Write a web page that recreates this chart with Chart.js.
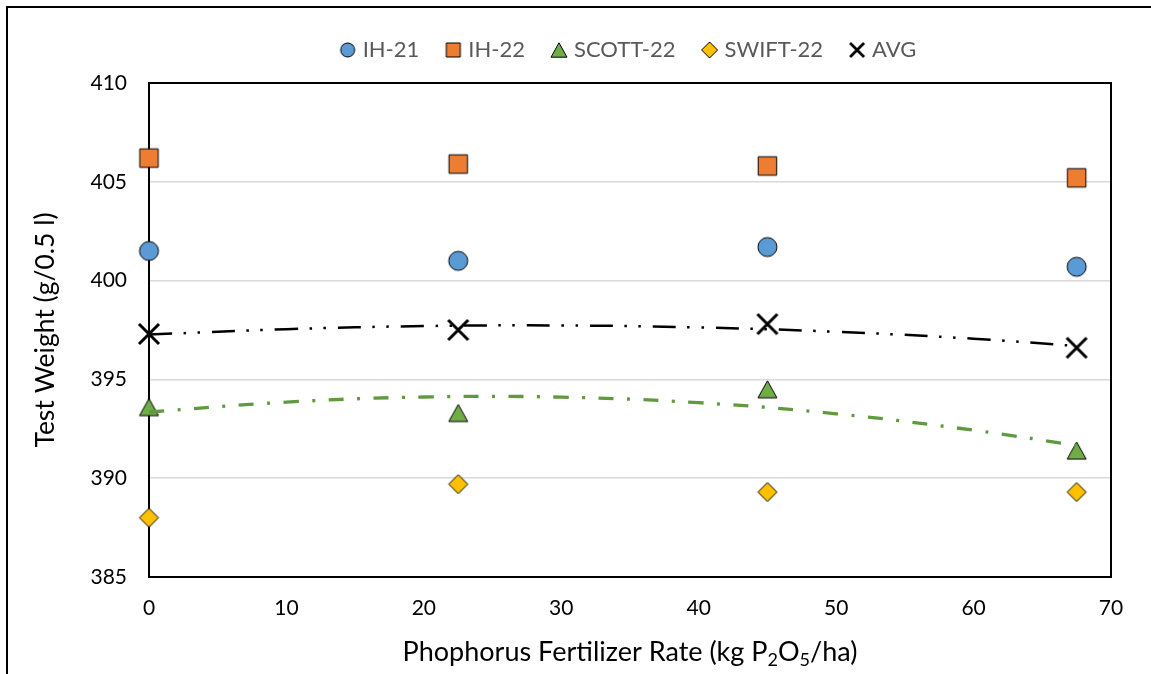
<!DOCTYPE html>
<html>
<head>
<meta charset="utf-8">
<script src="https://cdn.jsdelivr.net/npm/chart.js@4.4.1/dist/chart.umd.min.js"></script>
<style>
  html, body { margin: 0; padding: 0; background: #fff; }
  #wrap { width: 1151px; height: 674px; position: relative; }
</style>
</head>
<body>
<div id="wrap"><canvas id="c" width="1151" height="674"></canvas></div>
<script>
// ---- data ----
const rates = [0, 22.5, 45, 67.5];
const ih21 = [401.5, 401.0, 401.7, 400.7];
const ih22 = [406.2, 405.9, 405.8, 405.2];
const scott22 = [393.6, 393.3, 394.5, 391.4];
const swift22 = [388.0, 389.7, 389.3, 389.3];
const avg = [397.3, 397.5, 397.8, 396.6];
// trendlines (polynomial, as drawn in the reference), sampled along x
const trendX = [0, 10, 20, 30, 40, 50, 60, 67.5];
const avgTrend = [397.27, 397.54, 397.70, 397.73, 397.63, 397.41, 397.06, 396.69];
const scottTrend = [393.35, 393.85, 394.11, 394.10, 393.82, 393.26, 392.43, 391.66];
const seriesNames = ['IH-21', 'IH-22', 'SCOTT-22', 'SWIFT-22', 'AVG'];
const xTickRange = [0, 70, 10];
const yTickRange = [385, 410, 5];
const yTitle = 'Test Weight (g/0.5 l)';
const xTitleParts = [['Phophorus Fertilizer Rate (kg P', false], ['2', true], ['O', false], ['5', true], ['/ha)', false]];

const FONT = 'Lato';

function marker(shape, size, fill, lw) {
  const pad = 3;
  const c = document.createElement('canvas');
  const w = Math.ceil(size + pad * 2);
  c.width = w; c.height = w;
  const g = c.getContext('2d');
  const m = w / 2, h = size / 2;
  g.lineWidth = lw || 1; g.strokeStyle = '#000'; g.fillStyle = fill;
  g.lineJoin = 'miter';
  g.beginPath();
  if (shape === 'circle') g.arc(m, m, h, 0, Math.PI * 2);
  else if (shape === 'square') g.rect(m - h, m - h, size, size);
  else if (shape === 'triangle') { g.moveTo(m, m - h * 0.9); g.lineTo(m + h, m + h * 0.9); g.lineTo(m - h, m + h * 0.9); g.closePath(); }
  else if (shape === 'diamond') { g.moveTo(m, m - h); g.lineTo(m + h, m); g.lineTo(m, m + h); g.lineTo(m - h, m); g.closePath(); }
  if (shape === 'cross') {
    g.moveTo(m - h, m - h); g.lineTo(m + h, m + h);
    g.moveTo(m + h, m - h); g.lineTo(m - h, m + h);
    g.stroke();
  } else { g.fill(); g.stroke(); }
  return c;
}

const colors = ['#5B9BD5', '#ED7D31', '#70AD47', '#FFC000', '#000000'];
const shapes = ['circle', 'square', 'triangle', 'diamond', 'cross'];
const dataSizes = [19, 18.5, 19, 19, 20];
const legendSizes = [14, 14, 16, 16, 14];
const values = [ih21, ih22, scott22, swift22, avg];

function pts(xs, ys) { return xs.map((x, i) => ({ x: x, y: ys[i] })); }

const trendSets = [
  {
    label: 'AVG trend', isTrend: true, data: pts(trendX, avgTrend), showLine: true,
    borderColor: '#000', borderWidth: 2.5, borderDash: [23, 11.5, 2.5, 11.5, 2.5, 12],
    borderCapStyle: 'butt', tension: 0.4, pointRadius: 0, pointHoverRadius: 0, clip: false
  },
  {
    label: 'SCOTT trend', isTrend: true, data: pts(trendX, scottTrend), showLine: true,
    borderColor: '#5F9A3F', borderWidth: 3.3, borderDash: [15, 13.5, 3, 13.5],
    borderCapStyle: 'butt', tension: 0.4, pointRadius: 0, pointHoverRadius: 0, clip: false
  }
];
const markerSets = seriesNames.map((name, i) => ({
  label: name,
  data: pts(rates, values[i]),
  showLine: false,
  pointStyle: shapes[i] === 'cross'
    ? marker('cross', dataSizes[i], colors[i], 3)
    : marker(shapes[i], dataSizes[i], colors[i], 1),
  legendIcon: shapes[i] === 'cross'
    ? marker('cross', legendSizes[i], colors[i], 2.8)
    : marker(shapes[i], legendSizes[i], colors[i], 1),
  pointRadius: 5, pointHoverRadius: 5,
  backgroundColor: colors[i], borderColor: '#000',
  clip: false
}));

const layoutPlugin = {
  id: 'layoutFix',
  beforeInit(chart) {
    const orig = chart.legend.fit;
    chart.legend.fit = function () { orig.bind(chart.legend)(); this.height = 74; };
  },
  afterLayout(chart) {
    const ca = chart.chartArea;
    chart.legend.left = ca.left;
    chart.legend.right = ca.right;
    chart.legend.width = ca.right - ca.left;
  },
  beforeDraw(chart) {
    const ctx = chart.ctx;
    ctx.save();
    ctx.fillStyle = '#fff';
    ctx.fillRect(0, 0, chart.width, chart.height);
    ctx.strokeStyle = '#000';
    ctx.lineWidth = 2;
    ctx.beginPath();
    ctx.moveTo(7, chart.height + 5); ctx.lineTo(7, 7); ctx.lineTo(chart.width + 5, 7);
    ctx.stroke();
    ctx.restore();
  },
  beforeDatasetsDraw(chart) {
    const ctx = chart.ctx, ca = chart.chartArea;
    ctx.save();
    ctx.strokeStyle = '#000';
    ctx.lineWidth = 2;
    ctx.strokeRect(ca.left, ca.top, ca.right - ca.left, ca.bottom - ca.top);
    ctx.restore();
  },
  afterDraw(chart) {
    const ctx = chart.ctx, ca = chart.chartArea;
    const big = 27, small = 18;
    ctx.save();
    ctx.fillStyle = '#000';
    ctx.textBaseline = 'alphabetic';
    ctx.textAlign = 'left';
    let total = 0;
    xTitleParts.forEach(p => { ctx.font = (p[1] ? small : big) + 'px ' + FONT; total += ctx.measureText(p[0]).width; });
    let x = (ca.left + ca.right) / 2 - total / 2;
    const base = 661;
    xTitleParts.forEach(p => {
      ctx.font = (p[1] ? small : big) + 'px ' + FONT;
      ctx.fillText(p[0], x, p[1] ? base + 5 : base);
      x += ctx.measureText(p[0]).width;
    });
    ctx.restore();
  }
};

function build() {
  new Chart(document.getElementById('c'), {
    type: 'scatter',
    data: { datasets: trendSets.concat(markerSets) },
    options: {
      responsive: false,
      animation: false,
      devicePixelRatio: 1,
      layout: { padding: { top: 9, left: 0, right: 40, bottom: 0 } },
      plugins: {
        tooltip: { enabled: false },
        legend: {
          display: true,
          position: 'top',
          labels: {
            usePointStyle: true,
            boxWidth: 8, boxHeight: 8,
            padding: 30,
            color: '#595959',
            font: { family: FONT, size: 22 },
            generateLabels(chart) {
              const items = Chart.defaults.plugins.legend.labels.generateLabels(chart);
              return items
                .filter(it => !chart.data.datasets[it.datasetIndex].isTrend)
                .map(it => {
                  it.pointStyle = chart.data.datasets[it.datasetIndex].legendIcon;
                  it.fontColor = '#595959';
                  return it;
                });
            }
          }
        }
      },
      scales: {
        x: {
          type: 'linear',
          min: xTickRange[0], max: xTickRange[1],
          ticks: { stepSize: xTickRange[2], color: '#000', font: { family: FONT, size: 21 }, padding: 19 },
          grid: { display: false, drawTicks: false },
          border: { display: false },
          title: { display: false },
          afterFit(s) { s.height = 97; }
        },
        y: {
          type: 'linear',
          min: yTickRange[0], max: yTickRange[1],
          ticks: { stepSize: yTickRange[2], color: '#000', font: { family: FONT, size: 21 }, padding: 22 },
          grid: { color: '#d9d9d9', lineWidth: 1.5, drawTicks: false },
          border: { display: false },
          title: { display: true, text: yTitle, color: '#000', font: { family: FONT, size: 26.5 }, padding: { top: 30, bottom: 0 } },
          afterFit(s) { s.width = 149; }
        }
      }
    },
    plugins: [layoutPlugin]
  });
}

if (document.fonts && document.fonts.load) {
  Promise.all([document.fonts.load('21px Lato'), document.fonts.load('27px Lato')]).then(build, build);
} else { build(); }
</script>
</body>
</html>
